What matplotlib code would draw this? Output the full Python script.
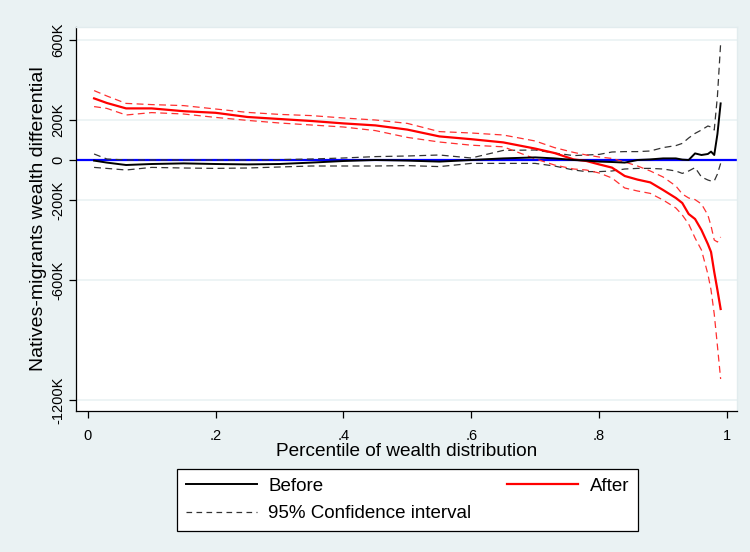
import matplotlib
matplotlib.use("Agg")
import matplotlib.pyplot as plt
from matplotlib.lines import Line2D

plt.rcParams['font.family'] = ['Liberation Sans', 'DejaVu Sans']

# Percentile of wealth distribution
pct = [0.01, 0.03, 0.06, 0.10, 0.15, 0.20, 0.25, 0.30, 0.35, 0.40, 0.45, 0.50,
       0.55, 0.60, 0.65, 0.70, 0.73, 0.76, 0.78, 0.80, 0.82, 0.84, 0.86, 0.88,
       0.90, 0.92, 0.93, 0.94, 0.95, 0.96, 0.97, 0.975, 0.98, 0.985, 0.99]

# Values in thousands
before = [-3, -13, -25, -20, -17, -20, -22, -20, -13, -5, 0, -3,
          -8, 0, 8, 13, 8, 0, -3, -8, -10, -13, 0, 3,
          8, 8, 2, 0, 33, 25, 30, 42, 25, 130, 283]
before_hi = [30, 5, 0, 0, 0, 0, 0, 2, 5, 10, 17, 20,
             25, 10, 48, 50, 35, 22, 25, 28, 40, 42, 42, 45,
             62, 72, 83, 110, 133, 150, 170, 165, 150, 320, 583]
before_lo = [-37, -42, -50, -37, -40, -42, -40, -35, -30, -30, -30, -28,
             -33, -17, -17, -17, -30, -50, -58, -58, -55, -45, -42, -42,
             -45, -55, -67, -55, -38, -85, -100, -105, -105, -70, -17]

after = [308, 285, 258, 258, 244, 236, 215, 205, 195, 183, 173, 152,
         118, 104, 88, 57, 35, 3, -5, -22, -38, -80, -98, -112,
         -150, -190, -215, -270, -295, -350, -420, -460, -560, -650, -745]
after_hi = [347, 320, 283, 277, 272, 255, 238, 228, 222, 210, 200, 183,
            142, 135, 125, 95, 62, 38, 25, 15, 8, -10, -30, -55,
            -85, -130, -170, -190, -198, -220, -275, -330, -400, -410, -385]
after_lo = [267, 258, 225, 237, 230, 213, 198, 185, 175, 165, 147, 113,
            90, 74, 66, 6, -25, -45, -50, -65, -90, -140, -155, -167,
            -200, -240, -275, -320, -390, -450, -570, -650, -770, -930, -1095]

yticks = [600, 200, 0, -200, -600, -1200]
ytick_labels = ['600K', '200K', '0', '-200K', '-600K', '-1200K']
xticks = [0, 0.2, 0.4, 0.6, 0.8, 1.0]
xtick_labels = ['0', '.2', '.4', '.6', '.8', '1']

bg = '#EAF2F3'
fig = plt.figure(figsize=(7.5, 5.52), dpi=100, facecolor=bg)
ax = fig.add_axes([76/750, 1-411/552, (737-76)/750, (411-27)/552])
ax.set_facecolor('white')

for y in yticks:
    ax.axhline(y, color=bg, lw=1.2, zorder=0)

ax.axhline(0, color='#0000FF', lw=1.6, zorder=2)

dash = (0, (5.5, 3.5))
ax.plot(pct, before_hi, color='#333333', lw=0.9, ls=dash, zorder=3)
ax.plot(pct, before_lo, color='#333333', lw=0.9, ls=dash, zorder=3)
ax.plot(pct, after_hi, color='#FF3030', lw=0.9, ls=dash, zorder=3)
ax.plot(pct, after_lo, color='#FF3030', lw=0.9, ls=dash, zorder=3)
ax.plot(pct, after, color='#FF0000', lw=1.6, zorder=4)
ax.plot(pct, before, color='black', lw=1.4, zorder=5)

ax.set_xlim(-0.0183, 1.0156)
ax.set_ylim(-1255, 665)

for s in ['top', 'right']:
    ax.spines[s].set_color('#E2ECEE')
    ax.spines[s].set_linewidth(1.0)
for s in ['left', 'bottom']:
    ax.spines[s].set_color('black')
    ax.spines[s].set_linewidth(0.9)

ax.set_yticks(yticks)
ax.set_yticklabels(ytick_labels, rotation=90, va='center', fontsize=10.5)
ax.set_xticks(xticks)
ax.set_xticklabels(xtick_labels, fontsize=10.5)
ax.tick_params(axis='both', direction='out', length=5, width=0.9, color='black')
ax.tick_params(axis='x', pad=8)
ax.tick_params(axis='y', pad=3)

ax.set_xlabel('Percentile of wealth distribution', fontsize=13.7, labelpad=0)
ax.set_ylabel('Natives-migrants wealth differential', fontsize=14, labelpad=3)

h_before = Line2D([], [], color='black', lw=1.4)
h_after = Line2D([], [], color='#FF0000', lw=1.6)
h_ci = Line2D([], [], color='#333333', lw=0.9, ls=(0, (4.5, 3.5)))
leg = fig.legend([h_before, h_ci, h_after],
                 ['Before', '95% Confidence interval', 'After'],
                 ncol=2, loc='center',
                 bbox_to_anchor=(407.5/750, 1-500/552),
                 fontsize=13.5, frameon=True, fancybox=False,
                 edgecolor='black', facecolor='white', framealpha=1,
                 handlelength=3.8, handletextpad=0.62, columnspacing=1.9,
                 borderpad=0.45, labelspacing=0.55, borderaxespad=0)
leg.get_frame().set_linewidth(0.9)

fig.savefig('out.png', dpi=100, facecolor=bg)
